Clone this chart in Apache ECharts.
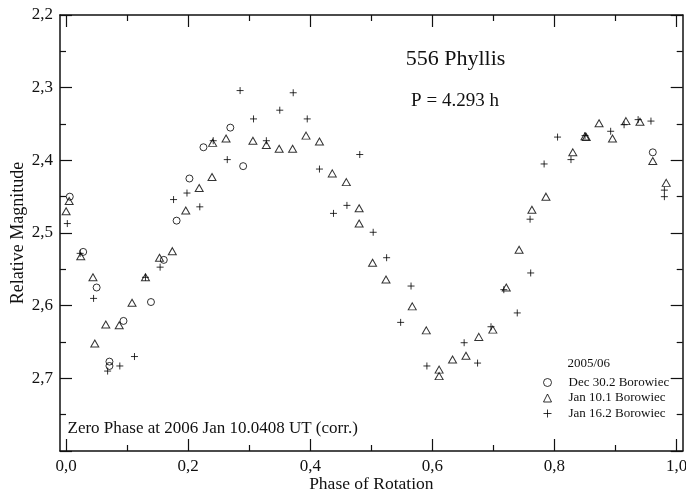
<!DOCTYPE html>
<html>
<head>
<meta charset="utf-8">
<script src="https://cdn.jsdelivr.net/npm/echarts@6/dist/echarts.min.js"></script>
<style>
html,body{margin:0;padding:0;background:#fff;}
#chart{width:686px;height:495px;}
</style>
</head>
<body>
<div id="chart"></div>
<script>
// ---- data (phase of rotation, relative magnitude) ----
const decPhase = [0.006, 0.028, 0.050, 0.071, 0.071, 0.094, 0.139, 0.160, 0.181, 0.202, 0.225, 0.269, 0.290, 0.961];
const decMag   = [2.450, 2.526, 2.575, 2.677, 2.683, 2.621, 2.595, 2.537, 2.483, 2.425, 2.382, 2.355, 2.408, 2.389];

const jan10Phase = [0.000, 0.005, 0.024, 0.044, 0.047, 0.065, 0.087, 0.108, 0.130, 0.153, 0.174, 0.196, 0.218, 0.239, 0.240, 0.262, 0.306, 0.328, 0.349, 0.371, 0.393, 0.415, 0.436, 0.459, 0.480, 0.480, 0.502, 0.524, 0.567, 0.590, 0.611, 0.611, 0.633, 0.655, 0.676, 0.699, 0.721, 0.742, 0.763, 0.786, 0.830, 0.852, 0.850, 0.873, 0.895, 0.917, 0.940, 0.961, 0.983];
const jan10Mag   = [2.470, 2.456, 2.532, 2.561, 2.652, 2.626, 2.627, 2.596, 2.561, 2.534, 2.525, 2.469, 2.438, 2.423, 2.376, 2.370, 2.373, 2.379, 2.384, 2.384, 2.366, 2.374, 2.418, 2.430, 2.466, 2.487, 2.541, 2.564, 2.601, 2.634, 2.688, 2.697, 2.674, 2.669, 2.643, 2.633, 2.575, 2.523, 2.468, 2.450, 2.389, 2.368, 2.367, 2.349, 2.370, 2.346, 2.347, 2.401, 2.431];

const jan16Phase = [0.002, 0.023, 0.045, 0.068, 0.088, 0.112, 0.130, 0.154, 0.176, 0.198, 0.219, 0.241, 0.264, 0.285, 0.307, 0.328, 0.350, 0.372, 0.395, 0.415, 0.438, 0.460, 0.481, 0.503, 0.525, 0.548, 0.565, 0.591, 0.652, 0.674, 0.696, 0.717, 0.739, 0.760, 0.761, 0.783, 0.805, 0.827, 0.850, 0.892, 0.914, 0.937, 0.958, 0.980, 0.980];
const jan16Mag   = [2.487, 2.528, 2.590, 2.690, 2.683, 2.670, 2.561, 2.547, 2.454, 2.445, 2.464, 2.373, 2.399, 2.304, 2.343, 2.373, 2.331, 2.307, 2.343, 2.412, 2.473, 2.462, 2.392, 2.499, 2.534, 2.623, 2.573, 2.683, 2.651, 2.679, 2.629, 2.578, 2.610, 2.481, 2.555, 2.405, 2.368, 2.399, 2.366, 2.360, 2.351, 2.344, 2.346, 2.441, 2.450];

const seriesNames = ['Dec 30.2 Borowiec', 'Jan 10.1 Borowiec', 'Jan 16.2 Borowiec'];

// ---- ticks ----
const xMajorTicks = [0, 0.2, 0.4, 0.6, 0.8, 1.0];
const xMinorTicks = [0.1, 0.3, 0.5, 0.7, 0.9];
const yLabelTicks = [2.2, 2.3, 2.4, 2.5, 2.6, 2.7];
const yMajorTicks = [2.2, 2.3, 2.4, 2.5, 2.6, 2.7, 2.8];
const yMinorTicks = [2.25, 2.35, 2.45, 2.55, 2.65, 2.75];

const FONT = 'Liberation Serif';
const fmt = v => Number(v).toFixed(1).replace('.', ',');
const zip = (a, b) => a.map((v, i) => [v, b[i]]);

const lineStyle = {color: '#111', width: 1.5};
function xAx(position, ticks, len, showLabel, showLine) {
  return {
    type: 'value', position: position, min: -0.01, max: 1.01,
    axisLine: {show: showLine, onZero: false, lineStyle: lineStyle},
    axisTick: {show: true, inside: true, length: len, customValues: ticks, lineStyle: {color: '#111', width: 1.2}},
    axisLabel: showLabel ? {show: true, customValues: xMajorTicks, formatter: fmt, margin: 7,
      fontFamily: FONT, fontSize: 17, color: '#111'} : {show: false},
    splitLine: {show: false},
    name: showLabel ? 'Phase of Rotation' : '',
    nameLocation: 'middle', nameGap: 24, nameMoveOverlap: false,
    nameTextStyle: {fontFamily: FONT, fontSize: 17.5, color: '#111'}
  };
}
function yAx(position, ticks, len, showLabel, showLine) {
  return {
    type: 'value', position: position, min: 2.2, max: 2.8, inverse: true,
    axisLine: {show: showLine, onZero: false, lineStyle: lineStyle},
    axisTick: {show: true, inside: true, length: len, customValues: ticks, lineStyle: {color: '#111', width: 1.2}},
    axisLabel: showLabel ? {show: true, customValues: yLabelTicks, formatter: fmt, margin: 7,
      fontFamily: FONT, fontSize: 17, color: '#111'} : {show: false},
    splitLine: {show: false},
    name: showLabel ? 'Relative Magnitude' : '',
    nameLocation: 'middle', nameGap: 33, nameMoveOverlap: false,
    nameTextStyle: {fontFamily: FONT, fontSize: 18, color: '#111'}
  };
}

const hollow = {color: 'rgba(0,0,0,0)', borderColor: '#000', borderWidth: 1};
const plusPath = 'path://M5,0L5,10M0,5L10,5';

const chart = echarts.init(document.getElementById('chart'), null, {renderer: 'canvas'});
chart.setOption({
  animation: false,
  backgroundColor: '#fff',
  grid: {left: 60, right: 3.3, top: 15, bottom: 44, containLabel: false, outerBoundsMode: 'none'},
  xAxis: [
    xAx('bottom', xMajorTicks, 12, true, true),
    xAx('bottom', xMinorTicks, 6, false, false),
    xAx('top', xMajorTicks, 12, false, true),
    xAx('top', xMinorTicks, 6, false, false)
  ],
  yAxis: [
    yAx('left', yMajorTicks, 12, true, true),
    yAx('left', yMinorTicks, 6, false, false),
    yAx('right', yMajorTicks, 12, false, true),
    yAx('right', yMinorTicks, 6, false, false)
  ],
  legend: {
    orient: 'vertical', left: 538, top: 371,
    itemWidth: 8, itemHeight: 8, itemGap: 2.5,
    itemStyle: {borderWidth: 1, borderColor: '#000', color: 'rgba(0,0,0,0)'},
    textStyle: {fontFamily: FONT, fontSize: 13, color: '#111', padding: [0, 0, 0, 12]},
    data: seriesNames
  },
  graphic: [
    {type: 'text', x: 455.5, y: 59, style: {text: '556 Phyllis', fontFamily: FONT, fontSize: 22, fill: '#111', align: 'center', verticalAlign: 'middle'}},
    {type: 'text', x: 455, y: 101, style: {text: 'P = 4.293 h', fontFamily: FONT, fontSize: 19, fill: '#111', align: 'center', verticalAlign: 'middle'}},
    {type: 'text', x: 67.5, y: 428.5, style: {text: 'Zero Phase at 2006 Jan 10.0408 UT (corr.)', fontFamily: FONT, fontSize: 17, fill: '#111', align: 'left', verticalAlign: 'middle'}},
    {type: 'text', x: 567.5, y: 364, style: {text: '2005/06', fontFamily: FONT, fontSize: 13, fill: '#111', align: 'left', verticalAlign: 'middle'}}
  ],
  series: [
    {name: seriesNames[0], type: 'scatter', xAxisIndex: 0, yAxisIndex: 0, symbol: 'circle', symbolSize: 7,
     itemStyle: hollow, data: zip(decPhase, decMag)},
    {name: seriesNames[1], type: 'scatter', xAxisIndex: 0, yAxisIndex: 0, symbol: 'triangle', symbolSize: [8, 7],
     itemStyle: hollow, data: zip(jan10Phase, jan10Mag)},
    {name: seriesNames[2], type: 'scatter', xAxisIndex: 0, yAxisIndex: 0, symbol: plusPath, symbolSize: 7,
     itemStyle: hollow, data: zip(jan16Phase, jan16Mag)}
  ]
});
</script>
</body>
</html>
